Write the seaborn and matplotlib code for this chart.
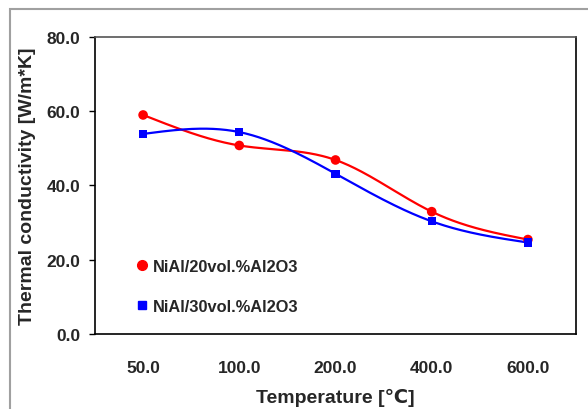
import numpy as np
import pandas as pd
import matplotlib
matplotlib.use("Agg")
import matplotlib.pyplot as plt
import seaborn as sns
from matplotlib.patches import Rectangle
from matplotlib.lines import Line2D

categories = ["50.0", "100.0", "200.0", "400.0", "600.0"]
series_20 = [58.9, 50.7, 46.8, 32.9, 25.4]
series_30 = [53.8, 54.3, 43.1, 30.3, 24.6]
label_20 = "NiAl/20vol.%Al2O3"
label_30 = "NiAl/30vol.%Al2O3"
y_ticks = [0, 20, 40, 60, 80]

sns.set_theme(style="white")
FAM = ["Liberation Sans", "DejaVu Sans"]
plt.rcParams["font.family"] = FAM


def smooth(xs, ys, n=60):
    # natural cubic spline through the data points
    x = np.asarray(xs, float)
    y = np.asarray(ys, float)
    k = len(x)
    h = np.diff(x)
    A = np.zeros((k, k))
    b = np.zeros(k)
    A[0, 0] = A[-1, -1] = 1.0
    for i in range(1, k - 1):
        A[i, i - 1] = h[i - 1]
        A[i, i] = 2 * (h[i - 1] + h[i])
        A[i, i + 1] = h[i]
        b[i] = 6 * ((y[i + 1] - y[i]) / h[i] - (y[i] - y[i - 1]) / h[i - 1])
    M = np.linalg.solve(A, b)
    xo, yo = [], []
    for i in range(k - 1):
        t = np.linspace(0, 1, n)
        if i > 0:
            t = t[1:]
        hh = h[i]
        xx = x[i] + t * hh
        a = 1 - t
        yy = a * y[i] + t * y[i + 1] + ((a ** 3 - a) * M[i] + (t ** 3 - t) * M[i + 1]) * hh ** 2 / 6
        xo.append(xx)
        yo.append(yy)
    return np.concatenate(xo), np.concatenate(yo)


xs = np.arange(len(categories))
fig = plt.figure(figsize=(5.88, 4.10), dpi=100)
fig.patch.set_facecolor("white")
# outer chart border
fig.patches.append(Rectangle((10 / 588, -0.1), 1.2, (410 - 10) / 410 + 0.1,
                             transform=fig.transFigure, fill=False,
                             edgecolor="#a0a0a0", linewidth=1.5))
ax = fig.add_axes([95 / 588, 75 / 410, 481 / 588, 297.5 / 410])

for ys, col in [(series_20, "#ff0000"), (series_30, "#0000ff")]:
    sx, sy = smooth(xs, ys)
    df = pd.DataFrame({"x": sx, "y": sy})
    sns.lineplot(data=df, x="x", y="y", ax=ax, color=col, linewidth=1.6,
                 sort=False, estimator=None)

pts20 = pd.DataFrame({"x": xs, "y": series_20})
pts30 = pd.DataFrame({"x": xs, "y": series_30})
sns.scatterplot(data=pts20, x="x", y="y", ax=ax, color="#ff0000", marker="o",
                s=48, edgecolor="none", zorder=5)
sns.scatterplot(data=pts30, x="x", y="y", ax=ax, color="#0000ff", marker="s",
                s=34, edgecolor="none", zorder=5)

ax.set_xlim(-0.5, len(categories) - 0.5)
ax.set_ylim(0, 80)
ax.set_xticks(xs)
ax.set_xticklabels(categories)
ax.set_yticks(y_ticks)
ax.set_yticklabels([f"{v:.1f}" for v in y_ticks])
for lab in ax.get_xticklabels() + ax.get_yticklabels():
    lab.set_fontweight("bold")
    lab.set_fontsize(12.5)
    lab.set_family(FAM)
ax.tick_params(axis="y", which="major", left=True, length=4.3, width=1,
               color="black", pad=6.5)
ax.tick_params(axis="x", which="major", bottom=False, length=0, pad=19)

for side in ["left", "bottom", "right", "top"]:
    ax.spines[side].set_visible(True)
    ax.spines[side].set_color("black")
    ax.spines[side].set_linewidth(1.2)
ax.spines["top"].set_color("#555555")

ax.set_xlabel("Temperature [℃]", fontsize=14, fontweight="bold")
ax.set_ylabel("Thermal conductivity [W/m*K]", fontsize=14, fontweight="bold")
ax.xaxis.label.set_va("center")
ax.yaxis.label.set_va("center")
ax.xaxis.set_label_coords(0.5, (335 - 398) / 297.5)
ax.yaxis.set_label_coords((27 - 95) / 481, 0.5)

handles = [Line2D([], [], linestyle="none", marker="o", color="#ff0000",
                  markersize=7, label=label_20),
           Line2D([], [], linestyle="none", marker="s", color="#0000ff",
                  markersize=5.5, label=label_30)]
leg = ax.legend(handles=handles, loc="lower left", bbox_to_anchor=(0.056, 0.028),
                frameon=False, handletextpad=0.2, labelspacing=1.55,
                handlelength=1.0, borderpad=0.2,
                prop={"weight": "bold", "size": 11.8, "family": FAM})

fig.savefig("out.png", dpi=100, facecolor="white")
